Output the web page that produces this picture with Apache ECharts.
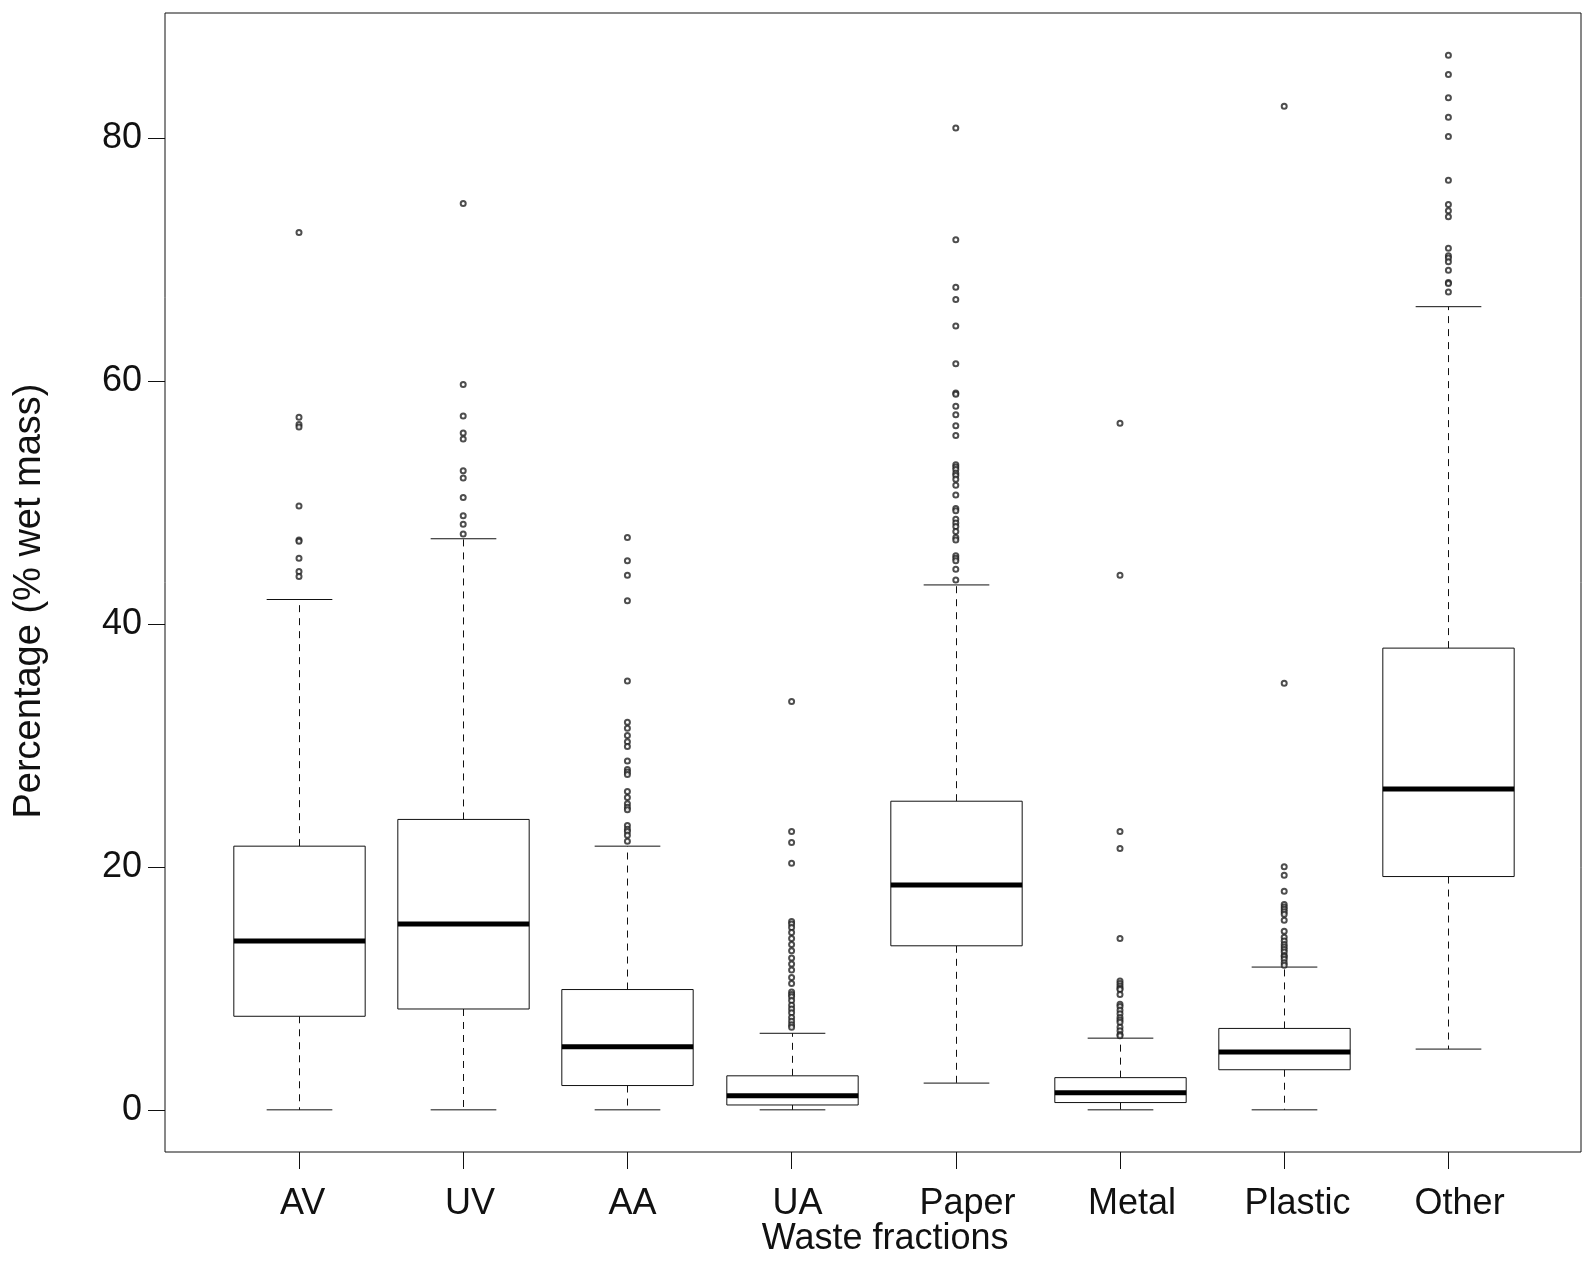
<!DOCTYPE html>
<html>
<head>
<meta charset="utf-8">
<title>Waste fractions</title>
<script src="https://cdn.jsdelivr.net/npm/echarts@6.0.0/dist/echarts.min.js"></script>
<style>
  html, body { margin: 0; padding: 0; background: #fff; }
  #chart { width: 1596px; height: 1287px; }
</style>
</head>
<body>
<div id="chart"></div>
<script>
  var categories = ['AV', 'UV', 'AA', 'UA', 'Paper', 'Metal', 'Plastic', 'Other'];
  var yTicks = [0, 20, 40, 60, 80];

  // box statistics
  var lowerWhisker = [0, 0, 0, 0, 2.2, 0, 0, 5.0];
  var q1 = [7.7, 8.3, 2.0, 0.4, 13.5, 0.6, 3.3, 19.2];
  var median = [13.9, 15.3, 5.2, 1.15, 18.5, 1.4, 4.75, 26.4];
  var q3 = [21.7, 23.9, 9.9, 2.8, 25.4, 2.65, 6.7, 38.0];
  var upperWhisker = [42.0, 47.0, 21.7, 6.3, 43.2, 5.9, 11.75, 66.1];

  var avOutliers = [72.2, 57.0, 56.4, 56.2, 49.7, 46.9, 46.8, 45.4, 44.3, 43.9];
  var uvOutliers = [74.6, 59.7, 57.1, 55.7, 55.2, 52.6, 52.0, 50.4, 48.9, 48.2, 47.4];
  var aaOutliers = [47.1, 45.2, 44.0, 41.9, 35.3, 31.9, 31.4, 30.8, 30.3, 29.9, 28.7, 28.0, 27.8, 27.6,
    26.2, 25.7, 25.2, 24.9, 24.7, 23.4, 23.1, 22.9, 22.6, 22.1];
  var uaOutliers = [33.6, 22.9, 22.0, 20.3, 15.5, 15.3, 15.0, 14.6, 14.1, 13.6, 13.1, 12.5, 12.0, 11.5,
    10.9, 10.4, 9.7, 9.5, 9.3, 9.0, 8.6, 8.3, 8.0, 7.6, 7.3, 7.0, 6.8];
  var paperOutliers = [80.8, 71.6, 67.7, 66.7, 64.5, 61.4, 59.0, 58.9, 57.9, 57.2, 56.3, 55.5, 53.1, 52.9,
    52.7, 52.4, 52.2, 51.9, 51.4, 50.6, 49.5, 49.3, 48.6, 48.3, 48.0, 47.6, 47.1, 46.9, 45.6, 45.4,
    45.2, 44.5, 43.6];
  var metalOutliers = [56.5, 44.0, 22.9, 21.5, 14.1, 10.6, 10.4, 10.2, 10.0, 9.9, 9.5, 8.7, 8.5, 8.2,
    7.9, 7.6, 7.4, 7.2, 6.8, 6.5, 6.2, 6.1];
  var plasticOutliers = [82.6, 35.1, 20.0, 19.3, 18.0, 16.9, 16.7, 16.5, 16.3, 16.1, 15.6, 14.7, 14.2,
    13.9, 13.6, 13.4, 13.2, 13.0, 12.7, 12.6, 12.4, 12.1, 11.9];
  var otherOutliers = [86.8, 85.2, 83.3, 81.7, 80.1, 76.5, 74.5, 74.0, 73.5, 70.9, 70.3, 70.1, 69.8,
    69.1, 68.1, 68.0, 67.3];

  var outlierGroups = [avOutliers, uvOutliers, aaOutliers, uaOutliers, paperOutliers,
    metalOutliers, plasticOutliers, otherOutliers];

  var boxData = categories.map(function (c, i) {
    return [i, lowerWhisker[i], q1[i], median[i], q3[i], upperWhisker[i]];
  });
  var outlierData = [];
  outlierGroups.forEach(function (list, i) {
    list.forEach(function (v) { outlierData.push([i, v]); });
  });

  var font = "'Liberation Sans', Arial, Helvetica, sans-serif";
  var ink = '#111';

  // the original labels sit a little right of their ticks
  var labelNudge = [3.7, 6.7, 5, 6, 11.7, 12, 13.2, 11.2];
  var labelRich = {};
  labelNudge.forEach(function (n, i) {
    labelRich['c' + i] = { fontSize: 36, color: ink, fontFamily: font, padding: [0, 0, 0, n * 2] };
  });

  function renderBox(params, api) {
    var i = api.value(0);
    var lo = api.coord([i, api.value(1)]);
    var b1 = api.coord([i, api.value(2)]);
    var md = api.coord([i, api.value(3)]);
    var b3 = api.coord([i, api.value(4)]);
    var hi = api.coord([i, api.value(5)]);
    var band = api.size([1, 0])[0];
    var half = band * 0.4;
    var cap = band * 0.2;
    var cx = Math.round(lo[0]) + 0.5;
    var thin = { stroke: ink, lineWidth: 1 };
    var dash = { stroke: ink, lineWidth: 1, lineDash: [7, 6] };
    return {
      type: 'group',
      children: [
        { type: 'line', shape: { x1: cx, y1: b3[1], x2: cx, y2: hi[1] }, style: dash },
        { type: 'line', shape: { x1: cx, y1: b1[1], x2: cx, y2: lo[1] }, style: dash },
        { type: 'line', shape: { x1: cx - cap, y1: hi[1], x2: cx + cap, y2: hi[1] }, style: thin },
        { type: 'line', shape: { x1: cx - cap, y1: lo[1], x2: cx + cap, y2: lo[1] }, style: thin },
        {
          type: 'rect',
          shape: { x: cx - half, y: b3[1], width: half * 2, height: b1[1] - b3[1] },
          style: { fill: '#fff', stroke: ink, lineWidth: 1 }
        },
        { type: 'line', shape: { x1: cx - half, y1: md[1], x2: cx + half, y2: md[1] },
          style: { stroke: '#000', lineWidth: 5 } }
      ]
    };
  }

  var chart = echarts.init(document.getElementById('chart'));
  chart.setOption({
    animation: false,
    backgroundColor: '#fff',
    textStyle: { fontFamily: font },
    grid: [
      { left: 216.9, right: 65.5, top: 13, bottom: 135 },
      { left: 165, right: 15, top: 13, bottom: 135, show: true, borderColor: ink, borderWidth: 1 }
    ],
    xAxis: [
      {
        type: 'category',
        data: categories,
        gridIndex: 0,
        axisLine: { show: false, onZero: false },
        axisTick: { show: true, alignWithLabel: true, length: 17, lineStyle: { color: ink } },
        axisLabel: {
          fontSize: 36, color: ink, margin: 34, fontFamily: font, interval: 0,
          formatter: function (v, i) { return '{c' + i + '|' + v + '}'; },
          rich: labelRich
        },
        name: 'Waste fractions',
        nameLocation: 'middle',
        nameGap: 69,
        nameMoveOverlap: false,
        nameTextStyle: { fontSize: 36, color: ink, fontFamily: font, padding: [0, 0, 0, 23] }
      },
      { type: 'value', gridIndex: 1, show: false }
    ],
    yAxis: [
      {
        type: 'value',
        gridIndex: 0,
        min: -3.47,
        max: 90.27,
        offset: 51.9,
        splitLine: { show: false },
        axisLine: { show: false },
        axisTick: { show: true, length: 17, customValues: yTicks, lineStyle: { color: ink } },
        axisLabel: { fontSize: 36, color: ink, margin: 23, fontFamily: font, customValues: yTicks },
        name: 'Percentage (% wet mass)',
        nameLocation: 'middle',
        nameRotate: 90,
        nameGap: 116,
        nameMoveOverlap: false,
        nameTextStyle: { fontSize: 38, color: ink, fontFamily: font, padding: [0, 37, 0, 0] }
      },
      { type: 'value', gridIndex: 1, show: false }
    ],
    series: [
      {
        type: 'custom',
        xAxisIndex: 0,
        yAxisIndex: 0,
        renderItem: renderBox,
        data: boxData,
        encode: { x: 0, y: [1, 2, 3, 4, 5] },
        z: 2
      },
      {
        type: 'scatter',
        xAxisIndex: 0,
        yAxisIndex: 0,
        data: outlierData,
        symbol: 'emptyCircle',
        symbolSize: 5,
        itemStyle: { color: '#222', borderColor: '#222', borderWidth: 1 },
        z: 3
      }
    ]
  });
</script>
</body>
</html>
